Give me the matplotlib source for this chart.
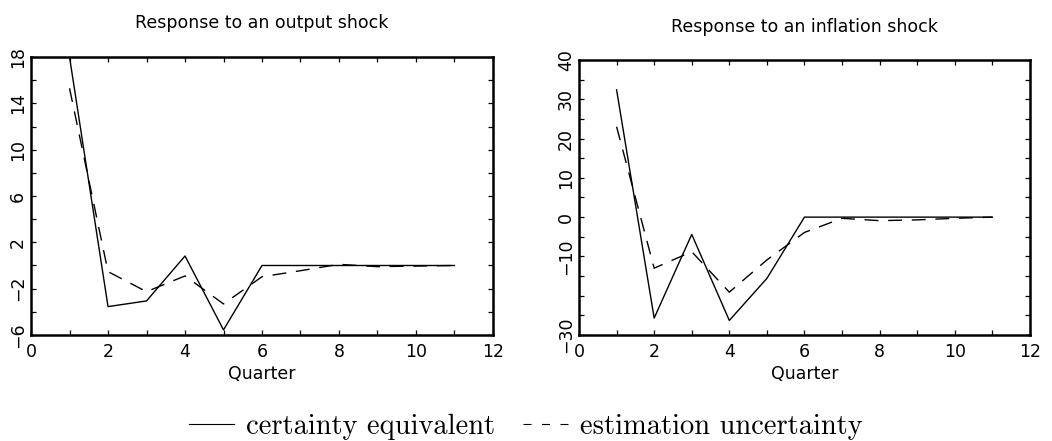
import matplotlib
matplotlib.use("Agg")
import matplotlib.pyplot as plt
from matplotlib.lines import Line2D
from matplotlib.ticker import MultipleLocator

quarters = [1, 2, 3, 4, 5, 6, 7, 8, 9, 10, 11]

output_ce = [18.0, -3.55, -3.06, 0.82, -5.56, 0.0, 0.0, 0.0, 0.0, 0.0, 0.0]
output_eu = [15.3, -0.53, -2.26, -0.9, -3.32, -0.97, -0.45, 0.1, -0.1, -0.05, 0.0]

infl_ce = [32.4, -25.7, -4.4, -26.3, -15.6, 0.0, 0.0, 0.0, 0.0, 0.0, 0.0]
infl_eu = [23.0, -13.0, -8.8, -19.1, -10.9, -3.9, -0.3, -0.9, -0.7, -0.3, 0.0]

titles = ["Response to an output shock", "Response to an inflation shock"]
xlabel = "Quarter"
out_yticks = [-6, -2, 2, 6, 10, 14, 18]
out_ylabels = ["\u22126", "\u22122", "2", "6", "10", "14", "18"]
inf_yticks = [-30, -20, -10, 0, 10, 20, 30, 40]
inf_ylabels = ["\u221230", "", "\u221210", "0", "10", "20", "30", "40"]
xticks = [0, 2, 4, 6, 8, 10, 12]
legend_labels = ["certainty equivalent", "estimation uncertainty"]

fig = plt.figure(figsize=(10.52, 4.41), dpi=100)
ax1 = fig.add_axes([0.0295, 0.2404, 0.4391, 0.6303])
ax2 = fig.add_axes([0.5504, 0.2404, 0.4286, 0.6236])

FS = 12.5
tick_font = dict(family="DejaVu Sans", size=FS)

def style(ax, yticks, ylabels, ylim, yminor):
    ax.set_xlim(0, 12)
    ax.set_ylim(*ylim)
    ax.set_xticks(xticks)
    ax.set_xticklabels([str(t) for t in xticks], **tick_font)
    ax.xaxis.set_minor_locator(MultipleLocator(1))
    ax.set_yticks(yticks)
    ax.set_yticklabels(ylabels, rotation=90, va="center", **tick_font)
    ax.yaxis.set_minor_locator(MultipleLocator(yminor))
    ax.tick_params(which="both", direction="in", top=True, right=True,
                   length=3.5, width=0.9)
    ax.tick_params(axis="x", which="both", pad=6)
    ax.tick_params(axis="y", which="both", pad=3)
    for s in ax.spines.values():
        s.set_linewidth(1.8)
    ax.set_xlabel(xlabel, fontsize=FS, labelpad=3)

ax1.plot(quarters, output_ce, color="black", lw=1.0)
ax1.plot(quarters, output_eu, color="black", lw=1.0, dashes=(10, 7))
style(ax1, out_yticks, out_ylabels, (-6, 18), 2)
ax1.set_title(titles[0], fontsize=FS, pad=21)

ax2.plot(quarters, infl_ce, color="black", lw=1.0)
ax2.plot(quarters, infl_eu, color="black", lw=1.0, dashes=(10, 7))
style(ax2, inf_yticks, inf_ylabels, (-30, 40), 5)
ax2.set_title(titles[1], fontsize=FS, pad=20.4)

handles = [Line2D([], [], color="black", lw=0.8),
           Line2D([], [], color="black", lw=0.8, dashes=(7.2, 9.45))]
fig.legend(handles, legend_labels, loc="center", bbox_to_anchor=(0.5, 0.032),
           ncol=2, frameon=False, prop=dict(family="cmr10", size=20.5),
           handlelength=1.6, handletextpad=0.4, columnspacing=1.0,
           borderpad=0.0, borderaxespad=0.0)

fig.savefig("out.png", dpi=100)
